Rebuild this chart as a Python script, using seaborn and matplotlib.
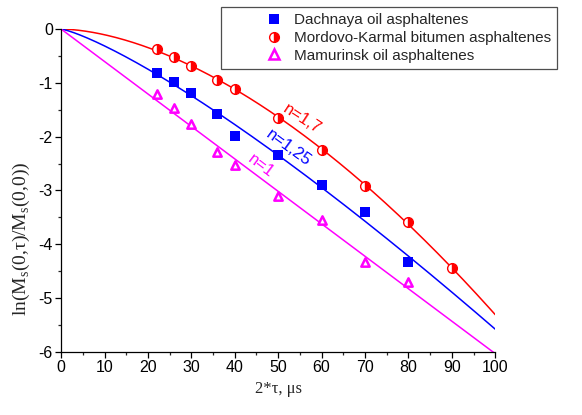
import numpy as np
import pandas as pd
import matplotlib
matplotlib.use("Agg")
import matplotlib.pyplot as plt
from matplotlib.lines import Line2D
from matplotlib.ticker import MultipleLocator
import seaborn as sns

# Echo-decay measurements: ln(Ms(0,tau)/Ms(0,0)) versus 2*tau (microseconds)
x_dach = [22, 26, 30, 36, 40, 50, 60, 70, 80]
y_dach = [-0.82, -0.99, -1.19, -1.58, -1.99, -2.34, -2.90, -3.40, -4.33]

x_mord = [22, 26, 30, 36, 40, 50, 60, 70, 80, 90]
y_mord = [-0.37, -0.52, -0.69, -0.95, -1.12, -1.65, -2.25, -2.92, -3.59, -4.44]

x_mamu = [22, 26, 30, 36, 40, 50, 60, 70, 80]
y_mamu = [-1.21, -1.47, -1.77, -2.29, -2.53, -3.10, -3.55, -4.33, -4.70]

# Stretched-exponent values of the model curves -a * x**n
n_dach = 1.25
n_mord = 1.7
n_mamu = 1.0

series_names = ["Dachnaya oil asphaltenes",
                "Mordovo-Karmal bitumen asphaltenes",
                "Mamurinsk oil asphaltenes"]

sns.set_theme(style="ticks")
plt.rcParams["font.family"] = ["Liberation Sans", "DejaVu Sans"]
plt.rcParams["axes.unicode_minus"] = False
plt.rcParams["mathtext.fontset"] = "custom"
plt.rcParams["mathtext.rm"] = "Liberation Serif"

RED, BLUE, MAG = "#ff0000", "#0000ff", "#ff00ff"


def fit_curve(xs, ys, n):
    """Least-squares coefficient for y = -a x^n through the origin."""
    xs = np.asarray(xs, float)
    ys = np.asarray(ys, float)
    a = -np.sum(ys * xs ** n) / np.sum(xs ** (2 * n))
    grid = np.linspace(0, 100, 301)
    return pd.DataFrame({"x": grid, "y": -a * grid ** n})


fig = plt.figure(figsize=(5.82, 4.15), dpi=100)
ax = fig.add_axes([0.105, 0.152, 0.746, 0.778])

# Model curves
for xs, ys, n, c in [(x_mord, y_mord, n_mord, RED),
                     (x_dach, y_dach, n_dach, BLUE),
                     (x_mamu, y_mamu, n_mamu, MAG)]:
    d = fit_curve(xs, ys, n)
    sns.lineplot(data=d, x="x", y="y", ax=ax, color=c, lw=1.1,
                 estimator=None, sort=False, legend=False, zorder=2)

# Measured points
sns.scatterplot(x=x_dach, y=y_dach, ax=ax, marker="s", s=42, color=BLUE,
                edgecolor=BLUE, linewidth=0, zorder=3, legend=False)
sns.lineplot(x=x_mord, y=y_mord, ax=ax, linestyle="none", marker="o",
             markersize=7, fillstyle="right", markerfacecoloralt="white",
             markeredgecolor=RED, markeredgewidth=1.0, color=RED,
             estimator=None, legend=False, zorder=3)
sns.scatterplot(x=x_mamu, y=y_mamu, ax=ax, marker="^", s=36,
                facecolor="white", edgecolor=MAG, linewidth=1.8,
                zorder=3, legend=False)

# Exponent labels along the curves
lab_font = dict(fontsize=12, ha="center", va="center",
                rotation_mode="anchor", family="Liberation Sans")
ax.text(55.5, -1.67, "n=1,7", color=RED, rotation=-33, **lab_font)
ax.text(52.3, -2.21, "n=1,25", color=BLUE, rotation=-36, **lab_font)
ax.text(46.0, -2.55, "n=1", color=MAG, rotation=-37, **lab_font)

ax.set_xlim(0, 100)
ax.set_ylim(-6, 0)
ax.xaxis.set_major_locator(MultipleLocator(10))
ax.xaxis.set_minor_locator(MultipleLocator(5))
ax.yaxis.set_major_locator(MultipleLocator(1))
ax.yaxis.set_minor_locator(MultipleLocator(0.5))
ax.tick_params(which="major", direction="out", length=4, width=0.9,
               labelsize=11.5, pad=2, colors="black")
ax.tick_params(which="minor", direction="out", length=2.5, width=0.9)
for s in ("top", "right"):
    ax.spines[s].set_visible(False)
for s in ("left", "bottom"):
    ax.spines[s].set_linewidth(0.9)
    ax.spines[s].set_color("black")

ax.set_xlabel("2*τ, μs", family="Liberation Serif", fontsize=12, labelpad=4)
ax.set_ylabel(r"ln(M$_\mathregular{s}$(0,τ)/M$_\mathregular{s}$(0,0))",
              family="Liberation Serif", fontsize=14)
ax.yaxis.set_label_coords(-0.068, 0.35)

handles = [
    Line2D([], [], linestyle="none", marker="s", markersize=6.5,
           color=BLUE, markeredgewidth=0),
    Line2D([], [], linestyle="none", marker="o", markersize=7,
           fillstyle="right", markerfacecoloralt="white", color=RED,
           markeredgecolor=RED),
    Line2D([], [], linestyle="none", marker="^", markersize=6.5,
           markerfacecolor="white", markeredgecolor=MAG, markeredgewidth=1.8),
]
leg = fig.legend(handles, series_names, loc="upper left",
                 bbox_to_anchor=(221 / 582, 1 - 7 / 415, 336 / 582, 0.0),
                 mode="expand", fontsize=11, frameon=True, fancybox=False,
                 borderpad=0.4, handlelength=6.2, handletextpad=-1.8,
                 labelspacing=0.25, borderaxespad=0)
leg.get_frame().set_edgecolor("#222222")
leg.get_frame().set_linewidth(0.9)

fig.savefig("out.png", dpi=100)
